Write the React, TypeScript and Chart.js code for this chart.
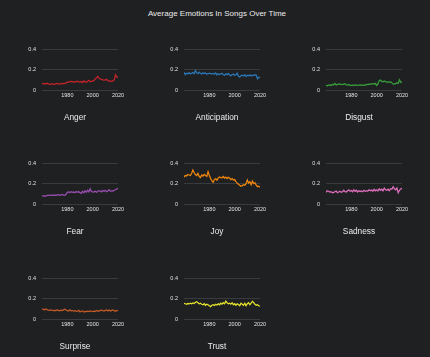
import React, { useEffect, useRef } from 'react';
import { Chart, registerables } from 'chart.js';

Chart.register(...registerables);

const years = [
  1960, 1961, 1962, 1963, 1964, 1965, 1966, 1967, 1968, 1969,
  1970, 1971, 1972, 1973, 1974, 1975, 1976, 1977, 1978, 1979,
  1980, 1981, 1982, 1983, 1984, 1985, 1986, 1987, 1988, 1989,
  1990, 1991, 1992, 1993, 1994, 1995, 1996, 1997, 1998, 1999,
  2000, 2001, 2002, 2003, 2004, 2005, 2006, 2007, 2008, 2009,
  2010, 2011, 2012, 2013, 2014, 2015, 2016, 2017, 2018, 2019,
  2020,
];

const xTickValues = [1980, 2000, 2020];
const yTickValues = [0, 0.2, 0.4];

const anger = [
  0.060, 0.065, 0.058, 0.062, 0.066, 0.060, 0.055, 0.058, 0.062, 0.058,
  0.056, 0.060, 0.064, 0.060, 0.058, 0.062, 0.065, 0.063, 0.066, 0.070,
  0.080, 0.078, 0.082, 0.085, 0.080, 0.083, 0.078, 0.082, 0.086, 0.080,
  0.078, 0.083, 0.072, 0.090, 0.080, 0.076, 0.085, 0.095, 0.082, 0.085,
  0.090, 0.092, 0.110, 0.120, 0.135, 0.115, 0.108, 0.105, 0.100, 0.098,
  0.100, 0.105, 0.092, 0.090, 0.085, 0.088, 0.090, 0.100, 0.150, 0.130,
  0.120,
];

const anticipation = [
  0.175, 0.150, 0.165, 0.160, 0.170, 0.158, 0.165, 0.172, 0.160, 0.190,
  0.170, 0.160, 0.175, 0.165, 0.158, 0.170, 0.162, 0.168, 0.155, 0.160,
  0.165, 0.160, 0.158, 0.162, 0.155, 0.168, 0.150, 0.160, 0.152, 0.158,
  0.165, 0.150, 0.145, 0.158, 0.150, 0.162, 0.148, 0.140, 0.152, 0.155,
  0.145, 0.150, 0.165, 0.135, 0.128, 0.140, 0.145, 0.138, 0.150, 0.132,
  0.145, 0.140, 0.150, 0.138, 0.145, 0.142, 0.150, 0.148, 0.110, 0.125,
  0.120,
];

const disgust = [
  0.045, 0.042, 0.048, 0.050, 0.045, 0.055, 0.052, 0.065, 0.050, 0.055,
  0.058, 0.060, 0.055, 0.052, 0.058, 0.062, 0.050, 0.048, 0.055, 0.046,
  0.045, 0.048, 0.046, 0.050, 0.048, 0.045, 0.047, 0.050, 0.048, 0.046,
  0.050, 0.048, 0.052, 0.055, 0.058, 0.056, 0.060, 0.062, 0.058, 0.065,
  0.045, 0.060, 0.092, 0.098, 0.085, 0.080, 0.088, 0.082, 0.078, 0.080,
  0.075, 0.082, 0.070, 0.060, 0.058, 0.062, 0.072, 0.065, 0.100, 0.075,
  0.078,
];

const fear = [
  0.080, 0.078, 0.082, 0.075, 0.085, 0.088, 0.082, 0.090, 0.086, 0.088,
  0.085, 0.090, 0.088, 0.092, 0.086, 0.090, 0.094, 0.088, 0.085, 0.095,
  0.115, 0.118, 0.112, 0.120, 0.115, 0.118, 0.110, 0.122, 0.116, 0.120,
  0.112, 0.105, 0.125, 0.110, 0.130, 0.115, 0.135, 0.120, 0.150, 0.125,
  0.118, 0.120, 0.125, 0.115, 0.122, 0.130, 0.128, 0.118, 0.132, 0.125,
  0.135, 0.120, 0.128, 0.140, 0.125, 0.130, 0.128, 0.135, 0.140, 0.148,
  0.155,
];

const joy = [
  0.265, 0.280, 0.275, 0.290, 0.285, 0.280, 0.300, 0.333, 0.310, 0.290,
  0.280, 0.300, 0.270, 0.260, 0.285, 0.275, 0.290, 0.280, 0.270, 0.318,
  0.280, 0.250, 0.230, 0.214, 0.240, 0.250, 0.235, 0.255, 0.265, 0.260,
  0.258, 0.270, 0.255, 0.265, 0.250, 0.262, 0.255, 0.240, 0.250, 0.235,
  0.240, 0.220, 0.205, 0.195, 0.185, 0.175, 0.180, 0.190, 0.185, 0.200,
  0.235, 0.205, 0.220, 0.190, 0.225, 0.200, 0.210, 0.185, 0.170, 0.175,
  0.165,
];

const sadness = [
  0.115, 0.130, 0.125, 0.118, 0.122, 0.110, 0.115, 0.120, 0.128, 0.112,
  0.118, 0.125, 0.115, 0.120, 0.135, 0.122, 0.118, 0.130, 0.140, 0.125,
  0.132, 0.120, 0.140, 0.125, 0.135, 0.118, 0.130, 0.122, 0.128, 0.120,
  0.135, 0.125, 0.130, 0.128, 0.140, 0.130, 0.138, 0.125, 0.145, 0.130,
  0.140, 0.128, 0.150, 0.135, 0.145, 0.130, 0.155, 0.140, 0.135, 0.145,
  0.130, 0.150, 0.145, 0.170, 0.150, 0.140, 0.158, 0.110, 0.135, 0.148,
  0.155,
];

const surprise = [
  0.100, 0.095, 0.090, 0.098, 0.092, 0.088, 0.085, 0.090, 0.086, 0.082,
  0.085, 0.082, 0.088, 0.084, 0.080, 0.086, 0.083, 0.090, 0.097, 0.088,
  0.082, 0.078, 0.090, 0.080, 0.083, 0.077, 0.082, 0.075, 0.078, 0.085,
  0.070, 0.076, 0.080, 0.068, 0.075, 0.072, 0.078, 0.074, 0.080, 0.076,
  0.072, 0.078, 0.075, 0.082, 0.080, 0.076, 0.085, 0.088, 0.082, 0.078,
  0.085, 0.090, 0.080, 0.088, 0.078, 0.085, 0.090, 0.082, 0.076, 0.085,
  0.080,
];

const trust = [
  0.155, 0.150, 0.145, 0.152, 0.148, 0.155, 0.150, 0.158, 0.152, 0.165,
  0.170, 0.160, 0.150, 0.155, 0.145, 0.140, 0.150, 0.135, 0.145, 0.140,
  0.130, 0.122, 0.135, 0.140, 0.132, 0.145, 0.138, 0.150, 0.140, 0.155,
  0.145, 0.160, 0.150, 0.175, 0.160, 0.150, 0.155, 0.145, 0.160, 0.140,
  0.150, 0.135, 0.150, 0.142, 0.130, 0.155, 0.145, 0.135, 0.155, 0.130,
  0.150, 0.160, 0.140, 0.155, 0.175, 0.160, 0.145, 0.135, 0.140, 0.130,
  0.125,
];

const emotionNames = ['Anger', 'Anticipation', 'Disgust', 'Fear', 'Joy', 'Sadness', 'Surprise', 'Trust'];
const emotionSeries = [anger, anticipation, disgust, fear, joy, sadness, surprise, trust];
const emotionColors = ['#c9232b', '#2b79b8', '#38a03a', '#9b4fb3', '#f2870d', '#e070bf', '#c45a26', '#e4e42c'];

const mainTitle = 'Average Emotions In Songs Over Time';

const BG = '#1f2022';
const GRID = '#3a3b3e';
const TEXT = '#ececec';
const TICK = '#e2e2e2';
const FONT = '"Liberation Sans", Arial, sans-serif';

const COL_LEFTS = [24, 166, 308];
const ROW_TOPS = [40, 154, 269];
const CW = 110;
const CH = 86;

function Panel(props: { title: string; values: number[]; color: string; left: number; top: number }) {
  const ref = useRef<HTMLCanvasElement>(null);
  useEffect(() => {
    const chart = new Chart(ref.current as HTMLCanvasElement, {
      type: 'line',
      data: {
        datasets: [
          {
            data: years.map((yr, i) => ({ x: yr, y: props.values[i] })),
            borderColor: props.color,
            borderWidth: 1.25,
            pointRadius: 0,
            tension: 0,
            fill: false,
          },
        ],
      },
      options: {
        responsive: false,
        animation: false,
        events: [],
        layout: { padding: { left: 2, right: 10, top: 6, bottom: 3 } },
        plugins: {
          legend: { display: false },
          tooltip: { enabled: false },
          title: {
            display: true,
            text: props.title,
            position: 'bottom',
            color: TEXT,
            font: { family: FONT, size: 8.3, lineHeight: '10px', weight: 'normal' },
            padding: { top: 11, bottom: 0 },
          },
        },
        scales: {
          x: {
            type: 'linear',
            min: 1960,
            max: 2020,
            afterBuildTicks: (s: any) => {
              s.ticks = xTickValues.map((v) => ({ value: v }));
            },
            afterFit: (s: any) => {
              s.height = 12;
            },
            grid: { display: false, drawTicks: false },
            border: { display: false },
            ticks: {
              color: TICK,
              font: { family: FONT, size: 5.5 },
              padding: 2.5,
              autoSkip: false,
              maxRotation: 0,
              callback: (v: any) => String(v),
            },
          },
          y: {
            min: 0,
            max: 0.4,
            afterBuildTicks: (s: any) => {
              s.ticks = yTickValues.map((v) => ({ value: v }));
            },
            afterFit: (s: any) => {
              s.width = 16;
            },
            grid: { color: GRID, lineWidth: 1, drawTicks: false },
            border: { display: false },
            ticks: {
              color: TICK,
              font: { family: FONT, size: 5.5 },
              padding: 6,
              callback: (v: any) => (Number(v) === 0 ? '0' : Number(v).toFixed(1)),
            },
          },
          yRight: {
            position: 'right',
            min: 0,
            max: 0.4,
            afterFit: (s: any) => {
              s.width = 6;
            },
            grid: { display: false, drawTicks: false },
            border: { display: false },
            ticks: { display: false },
          },
        },
      },
    } as any);
    return () => chart.destroy();
  }, []);
  return (
    <canvas
      ref={ref}
      width={CW}
      height={CH}
      style={{ position: 'absolute', left: props.left, top: props.top, width: CW, height: CH }}
    />
  );
}

export default function App() {
  useEffect(() => {
    document.body.style.background = BG;
    document.body.style.margin = '0';
  }, []);
  return (
    <div style={{ position: 'absolute', left: 0, top: 0, width: 430, height: 357, background: BG, overflow: 'hidden' }}>
      <div
        style={{
          position: 'absolute',
          left: 2,
          top: 9,
          width: 430,
          textAlign: 'center',
          color: TEXT,
          fontFamily: FONT,
          fontSize: 8,
          lineHeight: '10px',
        }}
      >
        {mainTitle}
      </div>
      {emotionNames.map((name, i) => (
        <Panel
          key={name}
          title={name}
          values={emotionSeries[i]}
          color={emotionColors[i]}
          left={COL_LEFTS[i % 3]}
          top={ROW_TOPS[Math.floor(i / 3)]}
        />
      ))}
    </div>
  );
}
